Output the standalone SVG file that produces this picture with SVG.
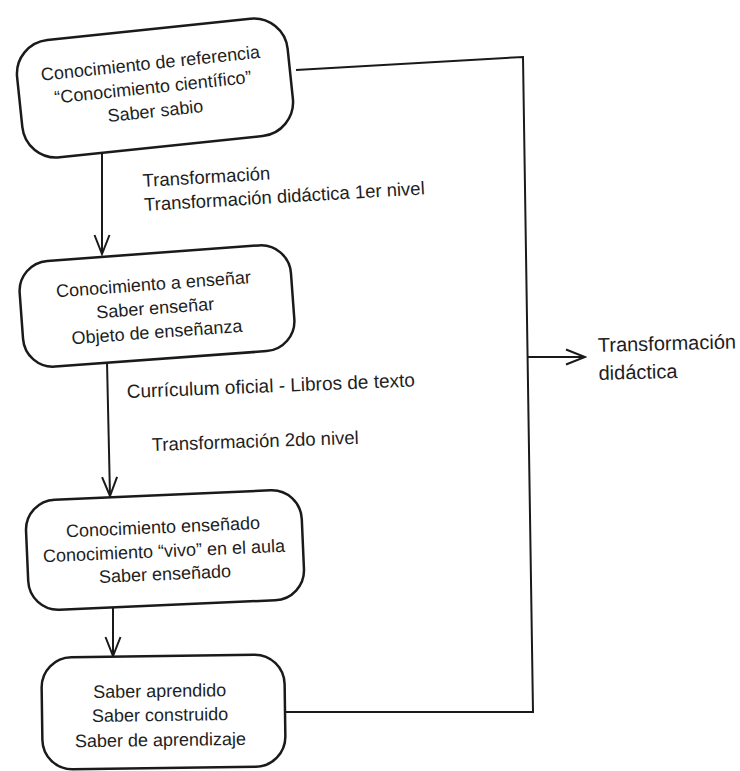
<svg xmlns="http://www.w3.org/2000/svg" width="740" height="771" viewBox="0 0 740 771">
<defs>
<style>
.box{fill:#fff;stroke:#1a1a1a;stroke-width:2.5}
.t{font-family:"Liberation Sans",Arial,sans-serif;font-size:18px;fill:#1e1e1e}
.tc{text-anchor:middle}
.ln{fill:none;stroke:#1a1a1a;stroke-width:2}
</style>
<marker id="ah" viewBox="0 0 22 18" markerWidth="22" markerHeight="18" refX="20" refY="9" orient="auto" markerUnits="userSpaceOnUse">
<path d="M1,1.5 L20,9 L1,16.5" fill="none" stroke="#1a1a1a" stroke-width="2"/>
</marker>
</defs>
<rect width="740" height="771" fill="#fff"/>
<g id="connectors">
<polyline class="ln" points="296,70 523,57 533,712 286,712"/>
<line class="ln" x1="102" y1="153" x2="102" y2="254" marker-end="url(#ah)"/>
<line class="ln" x1="107" y1="362" x2="110" y2="496" marker-end="url(#ah)"/>
<line class="ln" x1="113" y1="607" x2="113" y2="656" marker-end="url(#ah)"/>
<line class="ln" x1="528" y1="357" x2="585" y2="357" marker-end="url(#ah)"/>
</g>
<g id="n1" transform="rotate(-6 155 88)">
<rect class="box" x="19" y="29" width="272" height="118" rx="34"/>
<text class="t tc" x="153" y="69">Conocimiento de referencia</text>
<text class="t tc" x="153" y="93">“Conocimiento científico”</text>
<text class="t tc" x="153" y="117">Saber sabio</text>
</g>
<g id="n2" transform="rotate(-4.2 157 306)">
<rect class="box" x="21" y="253" width="272" height="106" rx="30"/>
<text class="t tc" x="155" y="290">Conocimiento a enseñar</text>
<text class="t tc" x="155" y="314">Saber enseñar</text>
<text class="t tc" x="155" y="338">Objeto de enseñanza</text>
</g>
<g id="n3" transform="rotate(-2.5 165 550)">
<rect class="box" x="27" y="495" width="276" height="110" rx="30"/>
<text class="t tc" x="164" y="533">Conocimiento enseñado</text>
<text class="t tc" x="164" y="557">Conocimiento “vivo” en el aula</text>
<text class="t tc" x="164" y="580">Saber enseñado</text>
</g>
<g id="n4" transform="rotate(-0.8 163 712)">
<rect class="box" x="42" y="656" width="243" height="112" rx="30"/>
<text class="t tc" x="160" y="697">Saber aprendido</text>
<text class="t tc" x="160" y="721">Saber construido</text>
<text class="t tc" x="160" y="746">Saber de aprendizaje</text>
</g>
<g id="lbl1" transform="rotate(-3.4 143 187)">
<text class="t" x="143" y="187" style="font-size:18.5px">Transformación</text>
<text class="t" x="143" y="211" style="font-size:18.5px">Transformación didáctica 1er nivel</text>
</g>
<g id="lbl2">
<text class="t" x="127" y="398" transform="rotate(-2.3 127 398)" style="font-size:19px">Currículum oficial - Libros de texto</text>
<text class="t" x="152" y="451" transform="rotate(-2 152 451)" style="font-size:18.5px">Transformación 2do nivel</text>
</g>
<g id="lbl3" transform="rotate(-1.5 598 352)">
<text class="t" x="598" y="352" style="font-size:20px">Transformación</text>
<text class="t" x="598" y="380" style="font-size:20px">didáctica</text>
</g>
</svg>
